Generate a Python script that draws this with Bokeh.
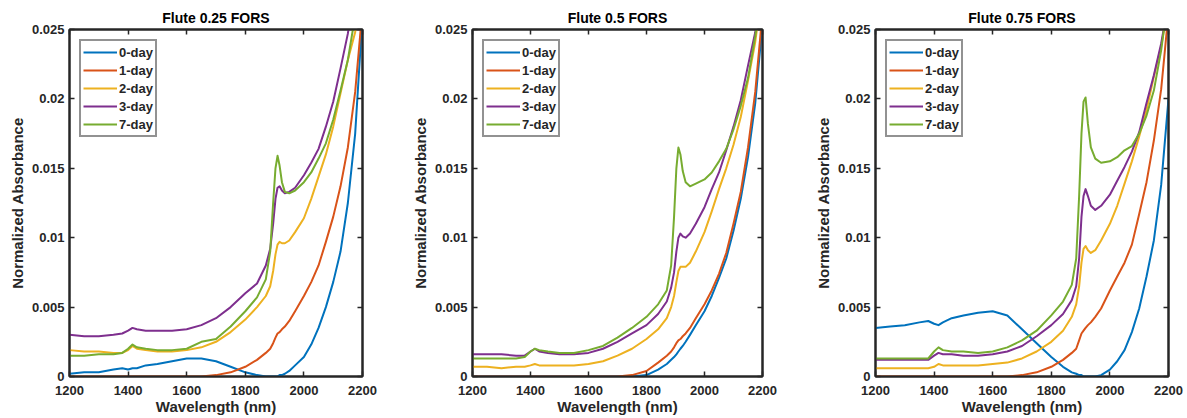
from bokeh.plotting import figure
from bokeh.layouts import row
from bokeh.models import LinearAxis, FixedTicker, CustomJSTickFormatter, Range1d
from bokeh.embed import file_html
from bokeh.resources import INLINE

# ---------------- data ----------------
WAVELENGTH = [1200, 1250, 1300, 1350, 1380, 1400, 1415, 1430, 1460, 1500, 1550, 1600,
              1650, 1700, 1750, 1800, 1840, 1870, 1885, 1895, 1903, 1910, 1917, 1925,
              1935, 1950, 1970, 2000, 2025, 2050, 2075, 2100, 2125, 2150, 2175, 2200]

SERIES_NAMES = ["0-day", "1-day", "2-day", "3-day", "7-day"]
COLORS = ["#0072BD", "#D95319", "#EDB120", "#7E2F8E", "#77AC30"]
TITLES = ["Flute 0.25 FORS", "Flute 0.5 FORS", "Flute 0.75 FORS"]

X_TICKS = [1200, 1400, 1600, 1800, 2000, 2200]
X_TICK_LABELS = ["1200", "1400", "1600", "1800", "2000", "2200"]
Y_TICKS = [0, 0.005, 0.01, 0.015, 0.02, 0.025]
Y_TICK_LABELS = ["0", "0.005", "0.01", "0.015", "0.02", "0.025"]
X_LABEL = "Wavelength (nm)"
Y_LABEL = "Normalized Absorbance"

# Flute 0.25 FORS
F025_DAY0 = [.0002, .0003, .0003, .0005, .0006, .0005, .0006, .0006, .0008, .0009, .0011, .0013,
             .0013, .0011, .0007, .0003, .0001, .0000, .0000, .0000, .0000, .0000, .0001, .0001,
             .0002, .0004, .0008, .0014, .0023, .0035, .0050, .0068, .0090, .0125, .0175, .0260]
F025_DAY1 = [0, 0, 0, 0, 0, 0, 0, 0, 0, 0, 0, 0,
             0, .0001, .0003, .0007, .0012, .0017, .0020, .0024, .0028, .0031, .0032, .0034,
             .0036, .0040, .0047, .0058, .0068, .0080, .0097, .0115, .0137, .0165, .0205, .0265]
F025_DAY2 = [.0019, .0018, .0018, .0017, .0017, .0019, .0022, .0020, .0019, .0018, .0018, .0019,
             .0021, .0025, .0032, .0041, .0050, .0058, .0065, .0076, .0088, .0095, .0097, .0096,
             .0096, .0098, .0104, .0114, .0128, .0144, .0160, .0180, .0204, .0228, .0248, .0290]
F025_DAY3 = [.0030, .0029, .0029, .0030, .0031, .0033, .0035, .0034, .0033, .0033, .0033, .0034,
             .0037, .0042, .0050, .0060, .0067, .0080, .0092, .0110, .0128, .0136, .0137, .0134,
             .0132, .0133, .0136, .0145, .0154, .0164, .0180, .0198, .0222, .0247, .0280, .0320]
F025_DAY7 = [.0015, .0015, .0016, .0016, .0017, .0020, .0023, .0021, .0020, .0019, .0019, .0020,
             .0025, .0027, .0036, .0047, .0057, .0070, .0090, .0125, .0150, .0159, .0152, .0140,
             .0133, .0132, .0134, .0140, .0147, .0157, .0168, .0185, .0206, .0228, .0260, .0300]

# Flute 0.5 FORS
F050_DAY0 = [0, 0, 0, 0, 0, 0, 0, 0, 0, 0, 0, 0,
             0, 0, 0, .0001, .0005, .0009, .0012, .0014, .0016, .0018, .0020, .0022,
             .0025, .0030, .0037, .0047, .0058, .0071, .0085, .0105, .0128, .0158, .0197, .0255]
F050_DAY1 = [0, 0, 0, 0, 0, 0, 0, 0, 0, 0, 0, 0,
             0, 0, .0001, .0004, .0010, .0015, .0018, .0021, .0024, .0026, .0027, .0029,
             .0031, .0035, .0042, .0052, .0062, .0074, .0089, .0110, .0133, .0165, .0205, .0262]
F050_DAY2 = [.0007, .0007, .0006, .0007, .0007, .0008, .0009, .0008, .0008, .0008, .0008, .0009,
             .0011, .0015, .0020, .0027, .0034, .0042, .0050, .0058, .0068, .0076, .0079, .0079,
             .0079, .0082, .0090, .0104, .0119, .0135, .0150, .0167, .0187, .0213, .0241, .0280]
F050_DAY3 = [.0016, .0016, .0016, .0015, .0015, .0018, .0020, .0018, .0017, .0016, .0016, .0017,
             .0020, .0025, .0031, .0037, .0045, .0054, .0064, .0075, .0090, .0100, .0103, .0101,
             .0100, .0103, .0110, .0122, .0135, .0147, .0163, .0180, .0199, .0224, .0248, .0285]
F050_DAY7 = [.0013, .0013, .0013, .0013, .0014, .0018, .0020, .0019, .0018, .0017, .0017, .0019,
             .0022, .0028, .0035, .0043, .0052, .0062, .0080, .0115, .0150, .0165, .0160, .0148,
             .0140, .0137, .0139, .0142, .0147, .0155, .0164, .0178, .0195, .0215, .0245, .0285]

# Flute 0.75 FORS
F075_DAY0 = [.0035, .0036, .0037, .0039, .0040, .0038, .0037, .0039, .0042, .0044, .0046, .0047,
             .0044, .0034, .0024, .0014, .0007, .0003, .0002, .0001, .0001, .0000, .0000, .0000,
             .0000, .0000, .0001, .0005, .0011, .0019, .0032, .0049, .0072, .0098, .0138, .0200]
F075_DAY1 = [0, 0, 0, 0, 0, 0, 0, 0, 0, 0, 0, 0,
             0, .0001, .0003, .0007, .0012, .0017, .0020, .0026, .0031, .0033, .0035, .0037,
             .0039, .0043, .0049, .0062, .0072, .0082, .0095, .0117, .0140, .0170, .0207, .0262]
F075_DAY2 = [.0006, .0006, .0006, .0006, .0006, .0007, .0009, .0008, .0008, .0008, .0008, .0009,
             .0010, .0013, .0018, .0025, .0033, .0043, .0052, .0065, .0082, .0092, .0094, .0091,
             .0089, .0091, .0098, .0110, .0123, .0139, .0155, .0173, .0192, .0216, .0238, .0268]
F075_DAY3 = [.0012, .0012, .0012, .0012, .0012, .0015, .0017, .0016, .0016, .0015, .0015, .0016,
             .0018, .0022, .0029, .0037, .0045, .0055, .0065, .0085, .0115, .0130, .0135, .0130,
             .0123, .0120, .0123, .0131, .0141, .0151, .0162, .0176, .0197, .0217, .0240, .0270]
F075_DAY7 = [.0013, .0013, .0013, .0013, .0013, .0018, .0021, .0019, .0018, .0018, .0017, .0018,
             .0021, .0026, .0033, .0044, .0054, .0066, .0085, .0130, .0175, .0198, .0201, .0182,
             .0165, .0157, .0154, .0155, .0158, .0163, .0166, .0175, .0188, .0206, .0235, .0275]

PANELS = [
    [F025_DAY0, F025_DAY1, F025_DAY2, F025_DAY3, F025_DAY7],
    [F050_DAY0, F050_DAY1, F050_DAY2, F050_DAY3, F050_DAY7],
    [F075_DAY0, F075_DAY1, F075_DAY2, F075_DAY3, F075_DAY7],
]

# ---------------- styling ----------------
FONT = "Liberation Sans"
INK = "#262626"
FIG_HEIGHT = 418
FIG_WIDTHS = [408, 400, 377]
BORDER_LEFT = [69, 61, 67]
BORDER_RIGHT = [46, 46, 17]
BORDER_TOP = 29
BORDER_BOTTOM = 42


def style_axis(ax, show_labels=True):
    ax.axis_line_color = INK
    ax.axis_line_width = 2
    ax.major_tick_line_color = INK
    ax.major_tick_line_width = 1.5
    ax.major_tick_in = 5
    ax.major_tick_out = 0
    ax.minor_tick_line_color = None
    ax.major_label_text_font = FONT
    ax.major_label_text_font_style = "bold"
    ax.major_label_text_color = INK
    ax.major_label_text_font_size = "13px"
    if show_labels:
        ax.major_label_standoff = 9
    else:
        ax.major_label_standoff = 0


def lookup_formatter(tick_values, tick_labels):
    return CustomJSTickFormatter(
        args=dict(tv=tick_values, tl=tick_labels),
        code="for (let i = 0; i < tv.length; i++) { if (Math.abs(tv[i] - tick) < 1e-9) return tl[i]; } return '';")


def blank_formatter():
    return CustomJSTickFormatter(code="return '';")


def make_panel(i):
    p = figure(width=FIG_WIDTHS[i], height=FIG_HEIGHT, output_backend="svg", toolbar_location=None,
               x_range=Range1d(X_TICKS[0], X_TICKS[-1]), y_range=Range1d(Y_TICKS[0], Y_TICKS[-1]),
               min_border_left=BORDER_LEFT[i], min_border_right=BORDER_RIGHT[i],
               min_border_top=BORDER_TOP, min_border_bottom=BORDER_BOTTOM,
               background_fill_color="white", border_fill_color="white")
    p.title.text = TITLES[i]
    p.title.align = "center"
    p.title.text_font = FONT
    p.title.text_font_size = "14px"
    p.title.text_font_style = "bold"
    p.title.text_color = "#000000"
    p.title.standoff = 8
    p.xgrid.visible = False
    p.ygrid.visible = False
    p.outline_line_color = INK
    p.outline_line_width = 2

    xa = p.xaxis[0]
    ya = p.yaxis[0]
    xa.ticker = FixedTicker(ticks=X_TICKS)
    ya.ticker = FixedTicker(ticks=Y_TICKS)
    xa.formatter = lookup_formatter(X_TICKS, X_TICK_LABELS)
    ya.formatter = lookup_formatter(Y_TICKS, Y_TICK_LABELS)
    style_axis(xa)
    style_axis(ya)
    ya.major_label_standoff = 5
    for ax, lab in ((xa, X_LABEL), (ya, Y_LABEL)):
        ax.axis_label = lab
        ax.axis_label_text_font = FONT
        ax.axis_label_text_font_size = "15px"
        ax.axis_label_text_font_style = "bold"
        ax.axis_label_text_color = INK
    xa.axis_label_standoff = 0
    ya.axis_label_standoff = 3

    top = LinearAxis(ticker=FixedTicker(ticks=X_TICKS), formatter=blank_formatter())
    style_axis(top, show_labels=False)
    p.add_layout(top, "above")
    right = LinearAxis(ticker=FixedTicker(ticks=Y_TICKS), formatter=blank_formatter())
    style_axis(right, show_labels=False)
    p.add_layout(right, "right")

    for name, color, vals in zip(SERIES_NAMES, COLORS, PANELS[i]):
        p.line(WAVELENGTH, vals, line_color=color, line_width=2, line_join="round",
               legend_label=name)

    lg = p.legend[0]
    lg.location = "top_left"
    lg.margin = 10
    lg.padding = 2
    lg.spacing = 0
    lg.glyph_width = 34
    lg.glyph_height = 18
    lg.label_height = 18
    lg.label_standoff = 2
    lg.label_text_font = FONT
    lg.label_text_font_size = "13px"
    lg.label_text_font_style = "bold"
    lg.label_text_color = INK
    lg.border_line_color = INK
    lg.border_line_width = 2
    lg.background_fill_color = "white"
    lg.background_fill_alpha = 1.0
    return p


layout = row(*[make_panel(i) for i in range(3)])

with open("out.html", "w") as f:
    f.write(file_html(layout, INLINE))
